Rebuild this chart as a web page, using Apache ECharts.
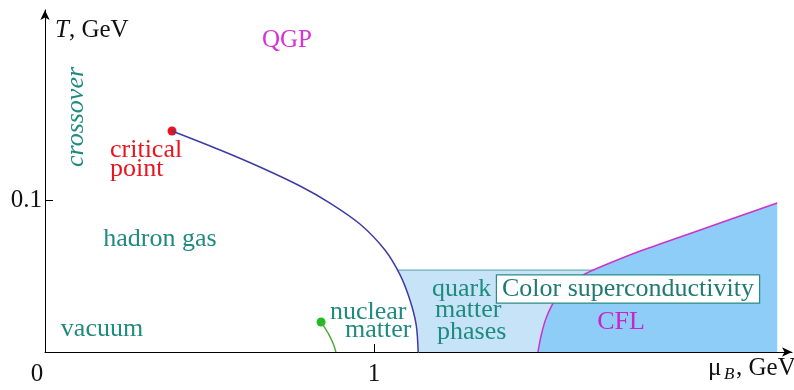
<!DOCTYPE html>
<html>
<head>
<meta charset="utf-8">
<script src="https://cdn.jsdelivr.net/npm/echarts@6/dist/echarts.min.js"></script>
<style>
html,body{margin:0;padding:0;background:#fff;}
#chart{width:794px;height:390px;}
</style>
</head>
<body>
<div id="chart"></div>
<script>
// 相图数据 (mu_B, T) 单位 GeV
var firstOrderLine = [[0.386,0.1454],[0.532,0.1329],[0.653,0.1217],[0.775,0.1092],[0.866,0.0980],[0.957,0.0842],[1.033,0.0671],[1.079,0.0507],[1.109,0.0342],[1.128,0.0178],[1.134,0]];
var criticalPoint = [[0.386,0.1454]];
var nuclearLine = [[0.839,0.0197],[0.860,0.0125],[0.875,0.0059],[0.884,0]];
var nuclearPoint = [[0.839,0.0197]];
var cflLine = [[1.498,0],[1.508,0.0112],[1.523,0.0224],[1.550,0.0342],[1.590,0.0441],[1.641,0.0513],[1.702,0.0572],[1.809,0.0664],[1.991,0.0803],[2.225,0.0980]];
var quarkTop = 0.0539;
var quarkLeft = 1.070;
var quarkRight = 1.669;
var plotRight = 2.225;
var xTicks = [1];
var xLabels = [0, 1];
var yTicks = [0.1];

var teal = '#1f8a80';
var serif = 'Liberation Serif';

// 浅蓝区域 (quark matter phases)
var lightPoly = [[quarkLeft,quarkTop]].concat(firstOrderLine.filter(function(p){ return p[1] < quarkTop; }));
lightPoly = lightPoly.concat([[quarkRight,0],[quarkRight,quarkTop]]);
// 深蓝区域 (CFL)
var darkPoly = cflLine.concat([[plotRight,0]]);

function polySeries(pts, color){
	return {
		type:'custom',
		coordinateSystem:'cartesian2d',
		silent:true,
		data:[0],
		renderItem:function(params, api){
			return {
				type:'polygon',
				shape:{points:pts.map(function(p){ return api.coord(p); })},
				style:{fill:color}
			};
		}
	};
}

function tok(color, size, italic){
	return {fill:color, color:color, fontFamily:serif, fontSize:size, fontStyle:italic ? 'italic' : 'normal'};
}

function lbl(text, x, y, color, opt){
	opt = opt || {};
	var size = opt.size || 26;
	return {
		type:'text', x:x, y:y, rotation:opt.rot || 0, z:100,
		style:{
			text:'{t|' + text + '}', fill:color, fontFamily:serif, fontSize:size,
			align:opt.align || 'center', verticalAlign:'middle',
			rich:{t:tok(color, size, opt.italic)}
		}
	};
}

var myChart = echarts.init(document.getElementById('chart'));
var option = {
	animation:false,
	grid:{left:45, right:2, top:10, bottom:38},
	xAxis:{
		type:'value', min:0, max:2.27,
		axisLine:{show:true, symbol:['none','arrow'], symbolSize:[7,10], lineStyle:{color:'#000', width:1}},
		axisTick:{show:true, inside:true, length:8, customValues:xTicks, lineStyle:{color:'#000'}},
		axisLabel:{
			customValues:xLabels, margin:10, color:'#111', fontSize:25, fontFamily:serif,
			formatter:function(v){ return v === 0 ? '{z|0}' : String(v); },
			rich:{z:{fontSize:25, fontFamily:serif, color:'#111', padding:[0,16,0,0]}}
		},
		splitLine:{show:false}
	},
	yAxis:{
		type:'value', min:0, max:0.225,
		axisLine:{show:true, symbol:['none','arrow'], symbolSize:[7,10], lineStyle:{color:'#000', width:1}},
		axisTick:{show:true, inside:true, length:8, customValues:yTicks, lineStyle:{color:'#000'}},
		axisLabel:{customValues:yTicks, margin:3, color:'#111', fontSize:25, fontFamily:serif},
		splitLine:{show:false}
	},
	series:[
		polySeries(lightPoly, '#c6e3f8'),
		polySeries(darkPoly, '#8dcdf7'),
		{
			type:'line', data:[[quarkLeft,quarkTop],[quarkRight,quarkTop]],
			symbol:'none', lineStyle:{color:'#5b9ca6', width:1}
		},
		{
			type:'line', data:firstOrderLine, smooth:0.3, symbol:'none',
			lineStyle:{color:'#3c3ca6', width:1.5}
		},
		{
			type:'line', data:cflLine, smooth:0.3, symbol:'none',
			lineStyle:{color:'#cc33cc', width:1.5}
		},
		{
			type:'line', data:nuclearLine, smooth:true, symbol:'none',
			lineStyle:{color:'#4caa3a', width:1.5}
		},
		{type:'scatter', data:criticalPoint, symbolSize:9, itemStyle:{color:'#e8141e', opacity:1}},
		{type:'scatter', data:nuclearPoint, symbolSize:9, itemStyle:{color:'#22bb22', opacity:1}}
	],
	graphic:[
		{
			type:'text', x:55, y:30, z:100,
			style:{text:'{i|T}{n|, GeV}', fontFamily:serif, fontSize:25, fill:'#111', verticalAlign:'middle',
				rich:{i:tok('#111', 25, true), n:tok('#111', 25, false)}}
		},
		lbl('QGP', 287, 40, '#d633d6', {size:25}),
		lbl('crossover', 76, 117, teal, {italic:true, rot:Math.PI/2}),
		lbl('critical', 110, 150, '#e8141e', {align:'left'}),
		lbl('point', 110, 169, '#e8141e', {align:'left'}),
		lbl('hadron gas', 160, 239, teal),
		lbl('vacuum', 102, 329, teal),
		lbl('nuclear', 330, 312, teal, {align:'left'}),
		lbl('matter', 345, 330, teal, {align:'left'}),
		lbl('quark', 432, 289, teal, {align:'left'}),
		lbl('matter', 435, 310, teal, {align:'left'}),
		lbl('phases', 437, 332, teal, {align:'left'}),
		lbl('CFL', 621, 322, '#cc22cc'),
		{
			type:'text', x:628, y:289, z:100,
			style:{
				text:'{t|Color superconductivity}', fontFamily:serif, fontSize:26, fill:'#1f7a72',
				align:'center', verticalAlign:'middle',
				backgroundColor:'#fff', borderColor:'#2c8c88', borderWidth:1.2, padding:[1,5,0,5],
				rich:{t:tok('#1f7a72', 26, false)}
			}
		},
		lbl('\u03bc', 708, 368, '#111', {align:'left', size:25}),
		lbl('B', 724, 375, '#111', {align:'left', italic:true, size:17}),
		lbl(', GeV', 736, 368, '#111', {align:'left', size:25})
	]
};

myChart.setOption(option);
</script>
</body>
</html>
